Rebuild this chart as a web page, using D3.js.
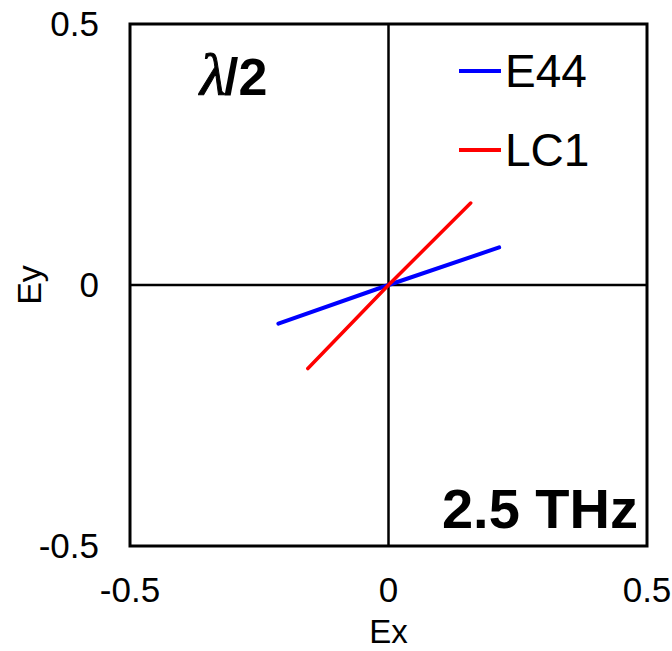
<!DOCTYPE html>
<html>
<head>
<meta charset="utf-8">
<script src="https://cdn.jsdelivr.net/npm/d3@7"></script>
<style>
  html, body { margin: 0; padding: 0; background: #fff; }
  svg { display: block; font-family: "Liberation Sans", Arial, sans-serif; }
</style>
</head>
<body>
<svg id="chart" width="672" height="651"></svg>
<script>
// Polarization traces (Ex, Ey) at 2.5 THz
const e44X = [-0.213, 0, 0.214];
const e44Y = [-0.074, 0, 0.072];
const lc1X = [-0.156, 0, 0.159];
const lc1Y = [-0.160, 0, 0.157];

const seriesNames = ["E44", "LC1"];
const seriesColors = ["#0000ff", "#ff0000"];
const tickValues = [-0.5, 0, 0.5];
const tickLabels = ["-0.5", "0", "0.5"];

const svg = d3.select("#chart");
const plotLeft = 130, plotRight = 647, plotTop = 24, plotBottom = 546;

const x = d3.scaleLinear().domain([-0.5, 0.5]).range([plotLeft, plotRight]);
const y = d3.scaleLinear().domain([-0.5, 0.5]).range([plotBottom, plotTop]);

// zero cross-hair lines
svg.append("line")
  .attr("x1", x(0)).attr("x2", x(0)).attr("y1", plotTop).attr("y2", plotBottom)
  .attr("stroke", "#000").attr("stroke-width", 2.5);
svg.append("line")
  .attr("x1", plotLeft).attr("x2", plotRight).attr("y1", y(0)).attr("y2", y(0))
  .attr("stroke", "#000").attr("stroke-width", 2.5);

// series
const series = [
  { xs: e44X, ys: e44Y },
  { xs: lc1X, ys: lc1Y }
];
const line = d3.line().x(d => x(d[0])).y(d => y(d[1]));
series.forEach((s, i) => {
  const pts = s.xs.map((v, j) => [v, s.ys[j]]);
  svg.append("path")
    .attr("d", line(pts))
    .attr("fill", "none")
    .attr("stroke", seriesColors[i])
    .attr("stroke-width", i === 0 ? 4 : 3.5)
    .attr("stroke-linecap", "round");
});

// plot frame
svg.append("rect")
  .attr("x", plotLeft).attr("y", plotTop)
  .attr("width", plotRight - plotLeft).attr("height", plotBottom - plotTop)
  .attr("fill", "none").attr("stroke", "#000").attr("stroke-width", 3);

// x tick labels
svg.selectAll(".xt").data(tickValues).enter().append("text")
  .attr("class", "xt")
  .attr("x", d => x(d)).attr("y", 602)
  .attr("text-anchor", "middle")
  .attr("font-size", 35)
  .text((d, i) => tickLabels[i]);

// y tick labels
svg.selectAll(".yt").data(tickValues).enter().append("text")
  .attr("class", "yt")
  .attr("x", 99).attr("y", d => y(d) + 12)
  .attr("text-anchor", "end")
  .attr("font-size", 35)
  .text((d, i) => tickLabels[i]);

// axis titles
svg.append("text")
  .attr("x", x(0)).attr("y", 643)
  .attr("text-anchor", "middle")
  .attr("font-size", 33)
  .text("Ex");
svg.append("text")
  .attr("transform", `translate(41, ${y(0)}) rotate(-90)`)
  .attr("text-anchor", "middle")
  .attr("font-size", 34)
  .text("Ey");

// legend
seriesNames.forEach((name, i) => {
  const ly = 71 + i * 79;
  svg.append("line")
    .attr("x1", 459).attr("x2", 501).attr("y1", ly).attr("y2", ly)
    .attr("stroke", seriesColors[i]).attr("stroke-width", 4);
  svg.append("text")
    .attr("x", 505).attr("y", ly + 16)
    .attr("font-size", 46)
    .text(name);
});

// annotations
const lam = svg.append("text").attr("x", 200).attr("y", 95);
lam.append("tspan")
  .attr("font-family", "'Liberation Serif', 'Times New Roman', serif")
  .attr("font-style", "italic")
  .attr("font-size", 60)
  .attr("stroke", "#000")
  .attr("stroke-width", 1)
  .text("λ");
lam.append("tspan")
  .attr("font-weight", "bold")
  .attr("font-size", 52)
  .attr("dx", -2)
  .text("/2");

svg.append("text")
  .attr("x", 638).attr("y", 528)
  .attr("text-anchor", "end")
  .attr("font-weight", "bold")
  .attr("font-size", 56)
  .text("2.5 THz");
</script>
</body>
</html>
